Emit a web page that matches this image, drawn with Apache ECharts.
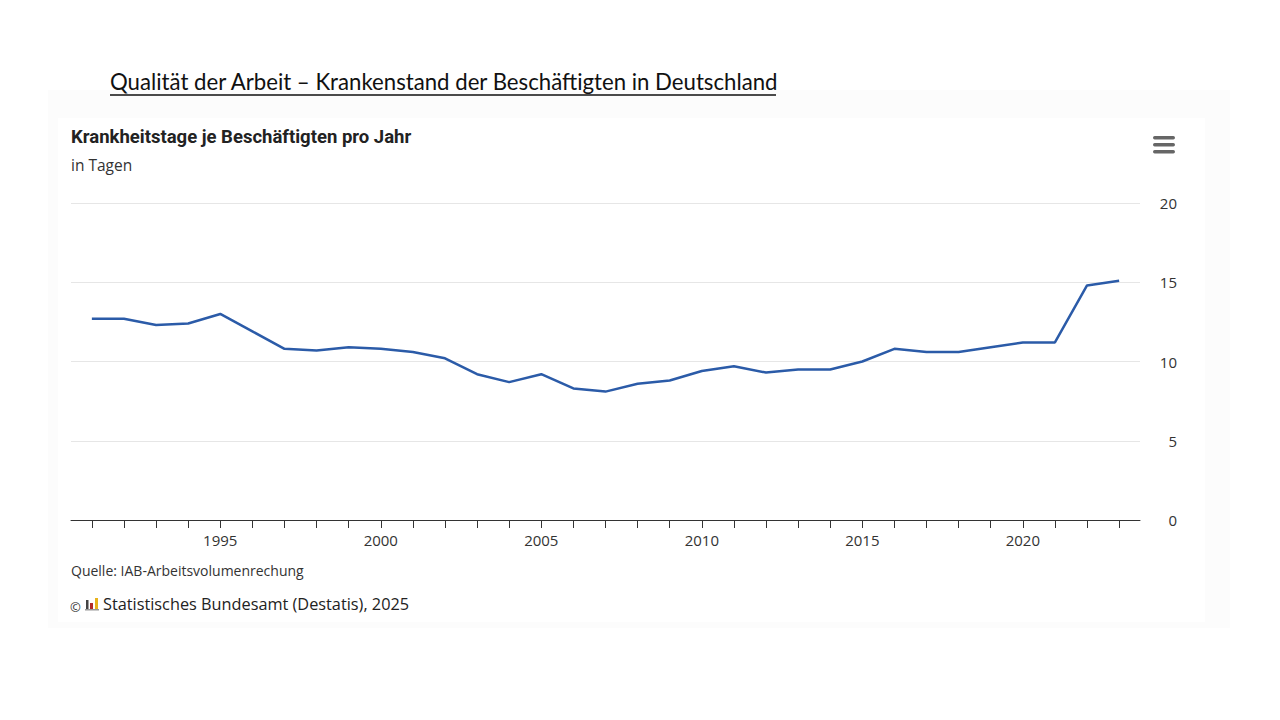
<!DOCTYPE html>
<html>
<head>
<meta charset="utf-8">
<script src="https://cdn.jsdelivr.net/npm/echarts@6/dist/echarts.min.js"></script>
<style>
html,body{margin:0;padding:0;background:#fff;}
#c{width:1280px;height:720px;}
</style>
</head>
<body>
<div id="c"></div>
<script>
const years = [1991,1992,1993,1994,1995,1996,1997,1998,1999,2000,2001,2002,2003,2004,2005,2006,2007,2008,2009,2010,2011,2012,2013,2014,2015,2016,2017,2018,2019,2020,2021,2022,2023];
const sickDays = [12.7,12.7,12.3,12.4,13.0,11.9,10.8,10.7,10.9,10.8,10.6,10.2,9.2,8.7,9.2,8.3,8.1,8.6,8.8,9.4,9.7,9.3,9.5,9.5,10.0,10.8,10.6,10.6,10.9,11.2,11.2,14.8,15.1];
const xLabelYears = [1995,2000,2005,2010,2015,2020];
const yTicks = [0,5,10,15,20];

const mainTitle = 'Qualität der Arbeit – Krankenstand der Beschäftigten in Deutschland';
const chartTitle = 'Krankheitstage je Beschäftigten pro Jahr';
const chartSubtitle = 'in Tagen';
const sourceText = 'Quelle: IAB-Arbeitsvolumenrechung';
const copyrightText = 'Statistisches Bundesamt (Destatis), 2025';

const chart = echarts.init(document.getElementById('c'), null, {renderer: 'svg'});
const baseFont = '"Source Sans Pro","Open Sans","Noto Sans",sans-serif';
const titleFont = 'Lato,"Noto Sans",sans-serif';
const boldFont = 'Roboto,"Noto Sans",sans-serif';

chart.setOption({
  backgroundColor: '#ffffff',
  animation: false,
  graphic: [
    {type:'rect', shape:{x:48,y:90,width:1182,height:538}, style:{fill:'#fcfcfc'}, z:-10, silent:true},
    {type:'rect', shape:{x:58,y:118,width:1147,height:504}, style:{fill:'#ffffff'}, z:-9, silent:true},
    {type:'text', left:110, top:70, style:{text:mainTitle, fill:'#111', font:'22.2px ' + titleFont}},
    {type:'line', shape:{x1:110,y1:95,x2:776,y2:95}, style:{stroke:'#111', lineWidth:1.5}},
    {type:'text', left:71, top:127, style:{text:chartTitle, fill:'#222', font:'bold 18.5px ' + boldFont}},
    {type:'text', left:71, top:157, style:{text:chartSubtitle, fill:'#333', font:'15.5px ' + baseFont}},
    {type:'rect', shape:{x:1153,y:136,width:22,height:3.5,r:1.7}, style:{fill:'#666'}},
    {type:'rect', shape:{x:1153,y:143,width:22,height:3.5,r:1.7}, style:{fill:'#666'}},
    {type:'rect', shape:{x:1153,y:150,width:22,height:3.5,r:1.7}, style:{fill:'#666'}},
    {type:'text', left:71, top:563, style:{text:sourceText, fill:'#333', font:'14px ' + baseFont}},
    {type:'text', left:70, top:600, style:{text:'©', fill:'#333', font:'13px ' + baseFont}},
    {type:'rect', shape:{x:86,y:600,width:2.5,height:9}, style:{fill:'#444'}},
    {type:'rect', shape:{x:90,y:603,width:3,height:6}, style:{fill:'#b22a2a'}},
    {type:'rect', shape:{x:95,y:598,width:3,height:11}, style:{fill:'#e8b31c'}},
    {type:'rect', shape:{x:85,y:609,width:14,height:1.5}, style:{fill:'#999'}},
    {type:'text', left:103, top:596, style:{text:copyrightText, fill:'#222', font:'16.3px ' + baseFont}}
  ],
  grid: {left:71, right:140, top:203, bottom:200, containLabel:false},
  xAxis: {
    type:'value',
    min:1990.35,
    max:2023.65,
    splitLine:{show:false},
    axisLine:{show:true, lineStyle:{color:'#333', width:1}},
    axisTick:{show:true, length:8, lineStyle:{color:'#333'}, customValues: years},
    axisLabel:{show:true, customValues: xLabelYears, color:'#333', fontSize:15, margin:12, fontFamily: baseFont, formatter: v => String(v)}
  },
  yAxis: {
    type:'value',
    position:'right',
    min:0,
    max:20,
    interval:5,
    axisLine:{show:false},
    axisTick:{show:false},
    splitLine:{show:true, lineStyle:{color:'#e6e6e6', width:1}},
    axisLabel:{color:'#333', fontSize:15, align:'right', margin:37, fontFamily: baseFont,
      formatter: v => yTicks.includes(v) ? String(v) : ''}
  },
  series: [{
    type:'line',
    data: years.map((y,i) => [y, sickDays[i]]),
    symbol:'none',
    lineStyle:{color:'#2b5ba8', width:2.5},
    itemStyle:{color:'#2b5ba8'}
  }]
});
</script>
</body>
</html>
